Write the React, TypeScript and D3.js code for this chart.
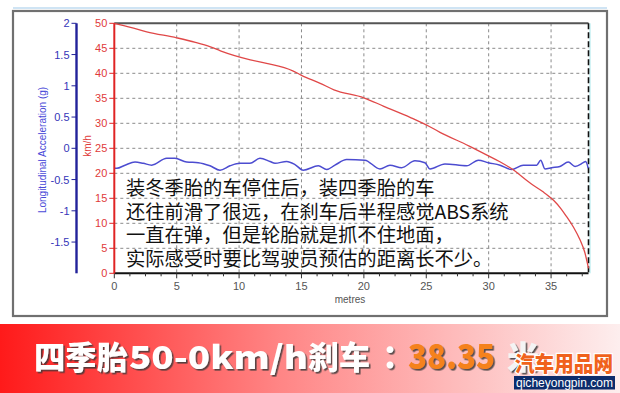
import React from "react";
import * as d3 from "d3";

// Speed trace: distance travelled (m) vs. vehicle speed (km/h)
const speedDist = [0, 1.3, 2.6, 5.0, 6.5, 7.7, 8.5, 10.9, 12.2, 14.3, 15.0, 16.5, 17.6, 20.0, 21.6, 23.7, 25.0, 26.1, 28.4, 29.9, 30.9, 31.9, 33.4, 34.3, 35.2, 35.8, 36.2, 36.8, 37.3, 37.7, 38.0];
const speedKmh = [50, 49.2, 48.3, 47.1, 46.2, 45.3, 44.5, 42.7, 42.0, 40.5, 39.6, 38.0, 36.7, 35.1, 33.4, 31.2, 29.7, 28.2, 25.5, 23.6, 22.3, 20.8, 17.9, 16.4, 14.6, 12.9, 11.5, 9.2, 6.8, 4.2, 1.0];

// Longitudinal acceleration trace (g) vs. distance (m)
const accelDist = [0, 0.2, 0.86, 1.66, 2.32, 3.0, 4.2, 4.86, 5.8, 6.73, 7.67, 8.47, 9.27, 10.07, 10.87, 11.67, 12.48, 12.88, 13.81, 14.48, 15.14, 16.35, 17.02, 17.68, 18.62, 20.08, 21.29, 22.09, 23.03, 24.09, 24.89, 25.3, 26.5, 28.24, 29.17, 29.97, 30.91, 31.84, 32.77, 33.85, 34.17, 34.51, 35.05, 35.71, 36.38, 36.92, 37.58, 37.77, 37.98];
const accelG = [-0.32, -0.32, -0.27, -0.22, -0.24, -0.27, -0.16, -0.16, -0.22, -0.23, -0.28, -0.35, -0.28, -0.24, -0.24, -0.16, -0.21, -0.24, -0.21, -0.26, -0.35, -0.28, -0.34, -0.27, -0.18, -0.19, -0.33, -0.27, -0.31, -0.2, -0.23, -0.33, -0.25, -0.28, -0.19, -0.23, -0.27, -0.34, -0.27, -0.27, -0.19, -0.33, -0.31, -0.29, -0.22, -0.29, -0.23, -0.21, -0.32];

const distTicks = [0, 5, 10, 15, 20, 25, 30, 35];
const speedTicks = [0, 5, 10, 15, 20, 25, 30, 35, 40, 45, 50];
const accelTicks = [2, 1.5, 1, 0.5, 0, -0.5, -1, -1.5];

const noteLines = [
  "装冬季胎的车停住后，装四季胎的车",
  "还往前滑了很远，在刹车后半程感觉ABS系统",
  "一直在弹，但是轮胎就是抓不住地面，",
  "实际感受时要比驾驶员预估的距离长不少。",
];

const W = 620;
const H = 393;
const plot = { left: 114.3, right: 588.5, top: 23.3, bottom: 273.3 };
const redAxisX = plot.left;
const blueAxisX = 76.5;

const sans = "Arial, 'Liberation Sans', sans-serif";
const cjk = "'Noto Sans CJK SC', sans-serif";

export default function App() {
  const x = d3.scaleLinear().domain([0, 38]).range([plot.left, plot.right]);
  const ySpeed = d3.scaleLinear().domain([0, 50]).range([plot.bottom, plot.top]);
  const yAccel = d3.scaleLinear().domain([-2, 2]).range([plot.bottom, plot.top]);

  const speedLine = d3
    .line<number>()
    .x((_, i) => x(speedDist[i]))
    .y((d) => ySpeed(d))
    .curve(d3.curveMonotoneX)(speedKmh);

  const accelLine = d3
    .line<number>()
    .x((_, i) => x(accelDist[i]))
    .y((d) => yAccel(d))
    .curve(d3.curveMonotoneX)(accelG);

  const minorDist = d3.range(0, 38.01, 1.25);

  return (
    <svg
      width={W}
      height={H}
      viewBox={`0 0 ${W} ${H}`}
      style={{ position: "absolute", left: 0, top: 0, background: "#fff" }}
    >
      <defs>
        <linearGradient id="banner" x1="0" x2="1" y1="0" y2="0">
          <stop offset="0" stopColor="#ff1a1a" />
          <stop offset="0.45" stopColor="#ff8585" />
          <stop offset="1" stopColor="#fdeeee" />
        </linearGradient>
        <filter id="shadow" x="-10%" y="-10%" width="130%" height="140%">
          <feDropShadow dx="1.6" dy="1.6" stdDeviation="0.7" floodColor="#3a3a3a" floodOpacity="0.85" />
        </filter>
      </defs>

      {/* chart frame */}
      <line x1={13} x2={607} y1={8} y2={8} stroke="#cfe4f4" strokeWidth={2} />
      <rect x={13} y={11} width={594} height={305} fill="#fff" stroke="#707070" strokeWidth={2.2} />

      {/* grid */}
      {distTicks.slice(1).map((t) => (
        <line key={`gx${t}`} x1={x(t)} x2={x(t)} y1={plot.top} y2={plot.bottom} stroke="#8a8a8a" strokeDasharray="3,3" />
      ))}
      {speedTicks.slice(1, -1).map((t) => (
        <line key={`gy${t}`} x1={plot.left} x2={plot.right} y1={ySpeed(t)} y2={ySpeed(t)} stroke="#8a8a8a" strokeDasharray="3,3" />
      ))}
      <line x1={plot.left} x2={plot.right} y1={plot.top} y2={plot.top} stroke="#555" strokeWidth={2} />
      <line x1={plot.right + 1.5} x2={plot.right + 1.5} y1={plot.top} y2={plot.bottom} stroke="#a8e8ec" strokeWidth={1} />
      <line x1={plot.right} x2={plot.right} y1={plot.top} y2={plot.bottom} stroke="#111" strokeWidth={1.6} strokeDasharray="6,3" />

      {/* data traces */}
      <path d={accelLine ?? ""} fill="none" stroke="#4c4cd0" strokeWidth={1.5} />
      <path d={speedLine ?? ""} fill="none" stroke="#e04848" strokeWidth={1.3} />

      {/* x axis */}
      <line x1={plot.left} x2={plot.right} y1={plot.bottom} y2={plot.bottom} stroke="#111" strokeWidth={2} />
      {minorDist.map((t) => (
        <line key={`mx${t}`} x1={x(t)} x2={x(t)} y1={plot.bottom} y2={plot.bottom + (t % 5 === 0 ? 5 : 3)} stroke="#333" strokeWidth={1} />
      ))}
      {distTicks.map((t) => (
        <text key={`xl${t}`} x={x(t)} y={plot.bottom + 17} textAnchor="middle" fontFamily={sans} fontSize={11} fill="#555">
          {t}
        </text>
      ))}
      <text x={350} y={303} textAnchor="middle" fontFamily={sans} fontSize={10} fill="#555">
        metres
      </text>

      {/* speed axis (red) */}
      <line x1={redAxisX} x2={redAxisX} y1={plot.top} y2={plot.bottom} stroke="#e02424" strokeWidth={2} />
      {speedTicks.map((t) => (
        <g key={`ys${t}`}>
          <line x1={redAxisX - 5} x2={redAxisX} y1={ySpeed(t)} y2={ySpeed(t)} stroke="#e02424" />
          <text x={redAxisX - 7} y={ySpeed(t) + 4} textAnchor="end" fontFamily={sans} fontSize={11} fill="#e03a3a">
            {t}
          </text>
        </g>
      ))}
      <text
        transform={`translate(${91},${146}) rotate(-90)`}
        textAnchor="middle"
        fontFamily={sans}
        fontSize={10}
        fill="#e03a3a"
      >
        km/h
      </text>

      {/* acceleration axis (blue) */}
      <line x1={blueAxisX} x2={blueAxisX} y1={plot.top} y2={plot.bottom} stroke="#22229a" strokeWidth={2.4} />
      {accelTicks.map((t) => (
        <g key={`ya${t}`}>
          <line x1={blueAxisX - 5} x2={blueAxisX} y1={yAccel(t)} y2={yAccel(t)} stroke="#22229a" />
          <text x={blueAxisX - 7} y={yAccel(t) + 4} textAnchor="end" fontFamily={sans} fontSize={11} fill="#3535b8">
            {t}
          </text>
        </g>
      ))}
      <text
        transform={`translate(${46},${150}) rotate(-90)`}
        textAnchor="middle"
        fontFamily={sans}
        fontSize={10}
        fill="#4a4ad8"
      >
        Longitudinal Acceleration (g)
      </text>

      {/* annotation */}
      {noteLines.map((line, i) => (
        <text key={`n${i}`} x={126} y={195 + i * 23.7} fontFamily={cjk} fontSize={19.3} fill="#111">
          {line}
        </text>
      ))}

      {/* result banner */}
      <rect x={0} y={324} width={W} height={H - 324} fill="url(#banner)" />
      <g filter="url(#shadow)" fontFamily={cjk} fontWeight={900} fontSize={32}>
        <text x={34} y={369} fill="#fff" textLength={94} lengthAdjust="spacingAndGlyphs">四季胎</text>
        <text x={129} y={369} fill="#fff" textLength={179} lengthAdjust="spacingAndGlyphs">50-0km/h</text>
        <text x={308} y={369} fill="#fff" textLength={62} lengthAdjust="spacingAndGlyphs">刹车</text>
        <text x={390} y={369} fill="#fff" textAnchor="middle" fontFamily="'Noto Sans CJK TC', sans-serif">：</text>
        <text x={408} y={369} fill="#f5821f" fontSize={34} textLength={87} lengthAdjust="spacingAndGlyphs">38.35</text>
        <text x={507} y={369} fill="#f4f4f4">米</text>
      </g>

      {/* site logo */}
      <text
        x={515}
        y={371}
        fontFamily={cjk}
        fontWeight={900}
        fontSize={21}
        fill="#f0621c"
        stroke="#fff"
        strokeWidth={2.5}
        paintOrder="stroke"
        textLength={98}
        lengthAdjust="spacingAndGlyphs"
      >
        汽车用品网
      </text>
      <rect x={514} y={376} width={101} height={13.5} fill="#0c2c6c" />
      <text x={516} y={387} fontFamily={sans} fontSize={12} fill="#fff" textLength={97} lengthAdjust="spacingAndGlyphs">
        qicheyongpin.com
      </text>
    </svg>
  );
}
